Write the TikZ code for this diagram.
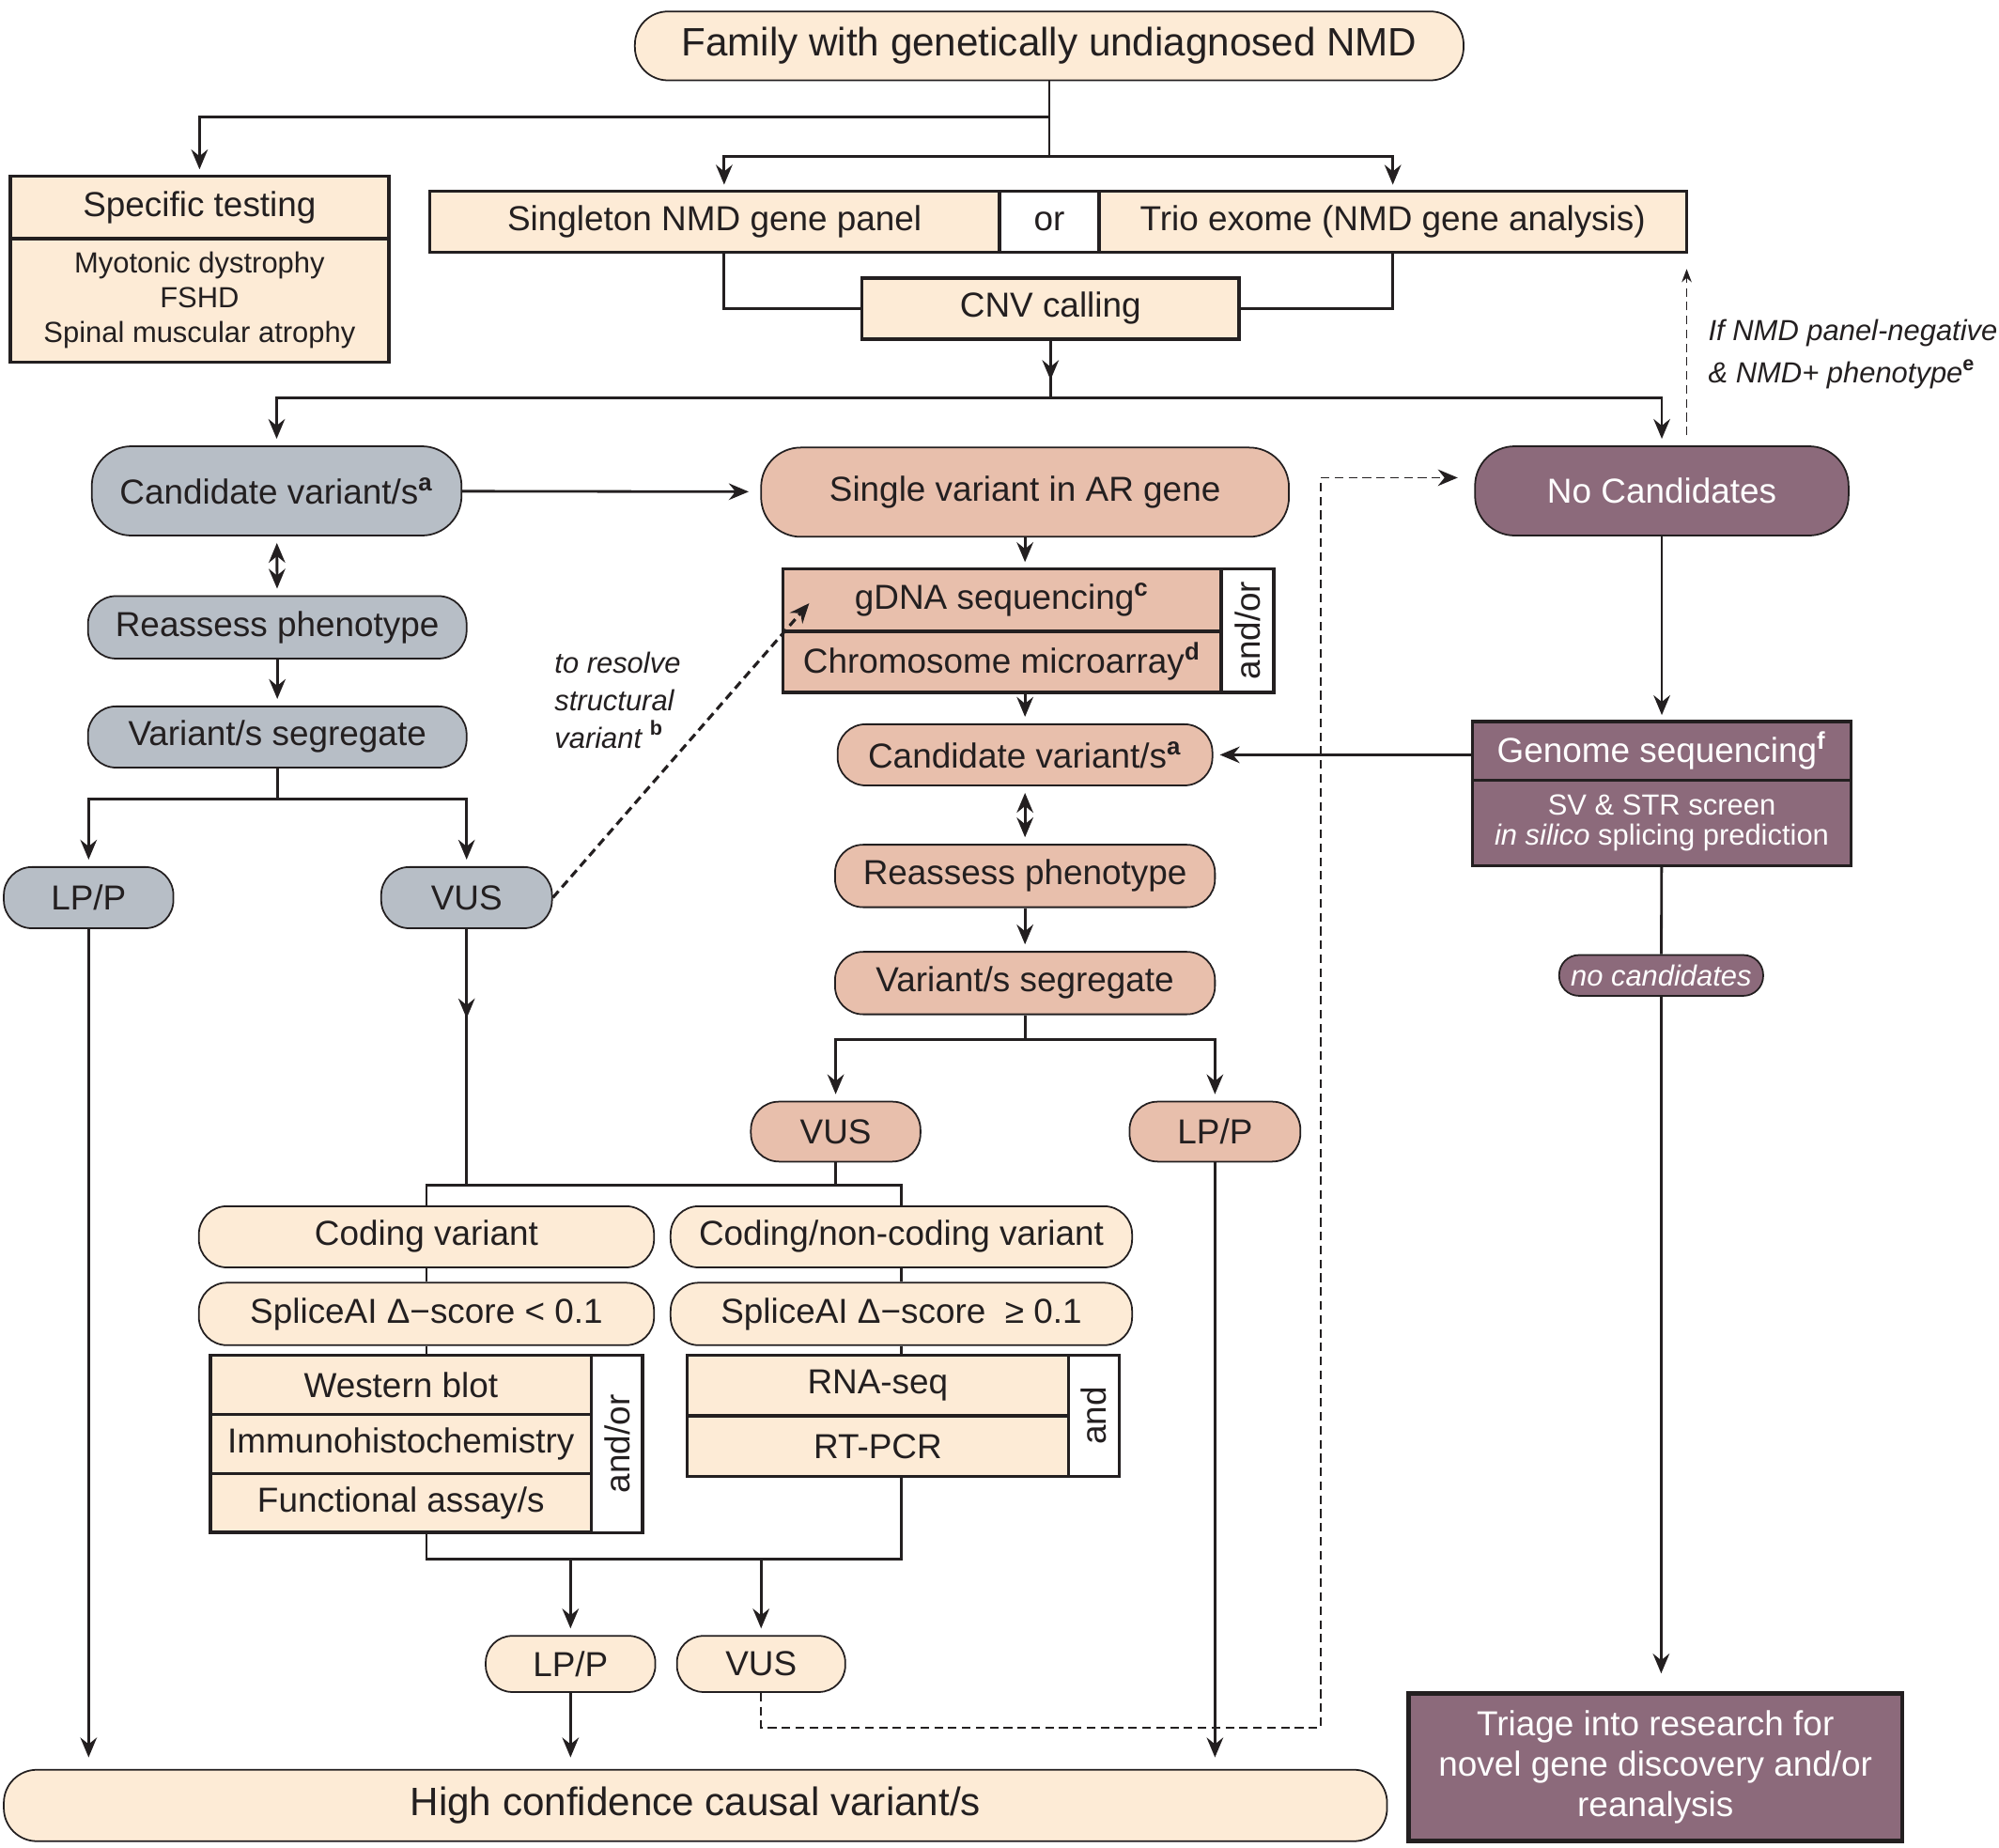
\documentclass[tikz,border=0pt]{standalone}
\usepackage{fontspec}
\setmainfont{Liberation Sans}
\usetikzlibrary{positioning,arrows.meta}

\definecolor{ink}{HTML}{231F20}
\definecolor{peach}{HTML}{FDEBD6}
\definecolor{slate}{HTML}{B7BEC6}
\definecolor{salmon}{HTML}{E8BFAC}
\definecolor{mauve}{HTML}{8C6A7B}

\tikzset{
  sz/.style 2 args={minimum width=#1*0.3861pt, minimum height=#2*0.3861pt},
  pill/.style={draw=ink, line width=0.5pt, rounded corners=8.5pt, inner sep=0pt, text=ink, font=\fontsize{10.5}{12.6}\selectfont},
  cell/.style={draw=ink, line width=1pt, inner sep=0pt, outer sep=0pt, text=ink, font=\fontsize{10.5}{12.6}\selectfont},
  smalltext/.style={font=\fontsize{8.8}{10.6}\selectfont},
  note/.style={font=\fontsize{8.8}{11.4}\selectfont\itshape, text=ink, inner sep=0pt, align=left},
  arr/.style={->, shorten >=2pt},
}

\begin{document}
\begin{tikzpicture}[x=0.3861pt, y=-0.3861pt, line width=0.8pt, color=ink,
    >={Stealth[length=6pt,width=5pt,inset=2pt]}]
	\useasboundingbox (0,0) rectangle (1568,1449);

	\node[pill, fill=peach, sz={650}{54}, rounded corners=10pt, font=\fontsize{12}{14}\selectfont] (fam) at (823,36) {Family with genetically undiagnosed NMD};

	\node[cell, fill=peach, sz={297}{49}] (spec) at (156.5,162.5) {Specific testing};
	\node[cell, fill=peach, sz={297}{97}, below=0pt of spec, align=center, smalltext] (specl) {Myotonic dystrophy\\FSHD\\Spinal muscular atrophy};

	\node[cell, fill=peach, sz={447}{48}] (panel) at (560.5,174) {Singleton NMD gene panel};
	\node[cell, fill=white, sz={78}{48}, right=0pt of panel] (orcell) {or};
	\node[cell, fill=peach, sz={461}{48}, right=0pt of orcell] (trio) {Trio exome (NMD gene analysis)};
	\node[cell, fill=peach, sz={296}{48}] (cnv) at (824,242) {CNV calling};

	\node[pill, fill=slate, sz={290}{70}, rounded corners=12pt] (cand1) at (217,385) {Candidate variant/s\textsuperscript{\bfseries a}};
	\node[pill, fill=slate, sz={297}{49}] (reas1) at (217.5,492) {Reassess phenotype};
	\node[pill, fill=slate, sz={297}{48}] (seg1) at (217.5,578) {Variant/s segregate};
	\node[pill, fill=slate, sz={133}{48}] (lpp1) at (69.5,704) {LP/P};
	\node[pill, fill=slate, sz={134}{48}] (vus1) at (366,704) {VUS};
	\node[note, anchor=west] (svnote) at (434,549) {to resolve\\structural\\variant \textsuperscript{\upshape\bfseries b}};

	\node[pill, fill=salmon, sz={414}{70}, rounded corners=12pt] (single) at (804,386) {Single variant in AR gene};
	\node[cell, fill=salmon, sz={344}{49}] (gdna) at (786,470.5) {gDNA sequencing\textsuperscript{\bfseries c}};
	\node[cell, fill=salmon, sz={344}{48}, below=0pt of gdna] (chrom) {Chromosome microarray\textsuperscript{\bfseries d}};
	\node[cell, fill=white, sz={41}{97}, anchor=north west] (andor1) at (gdna.north east) {\rotatebox{90}{and/or}};
	\node[pill, fill=salmon, sz={294}{48}] (cand2) at (804,592) {Candidate variant/s\textsuperscript{\bfseries a}};
	\node[pill, fill=salmon, sz={298}{49}] (reas2) at (804,687) {Reassess phenotype};
	\node[pill, fill=salmon, sz={298}{49}] (seg2) at (804,771) {Variant/s segregate};
	\node[pill, fill=salmon, sz={133}{47}] (vus2) at (655.5,887.5) {VUS};
	\node[pill, fill=salmon, sz={134}{47}] (lpp2) at (953,887.5) {LP/P};

	\node[pill, fill=mauve, text=white, sz={293}{70}, rounded corners=12pt] (nocand) at (1303.5,385) {No Candidates};
	\node[note, anchor=west, font=\fontsize{8.8}{12.7}\selectfont\itshape] (ifnote) at (1339,278) {If NMD panel-negative\\\& NMD+ phenotype\textsuperscript{\upshape\bfseries e}};
	\node[cell, fill=mauve, text=white, sz={297}{46}] (genome) at (1303.5,589) {Genome sequencing\textsuperscript{\bfseries f}};
	\node[cell, fill=mauve, text=white, sz={297}{67}, below=0pt of genome, align=center, font=\fontsize{8.8}{9.3}\selectfont] (screen) {SV \& STR screen\\\textit{in silico} splicing prediction};
	\node[pill, note, fill=mauve, text=white, sz={160}{32}, rounded corners=6pt] (nocand2) at (1303,765) {no candidates};
	\node[cell, fill=mauve, text=white, sz={387}{116}, line width=1.3pt, align=center, font=\fontsize{10.5}{12.3}\selectfont] (triage) at (1298.5,1386) {Triage into research for\\novel gene discovery and/or\\reanalysis};

	\node[pill, fill=peach, sz={357}{48}] (coding) at (334.5,970) {Coding variant};
	\node[pill, fill=peach, sz={362}{48}] (noncod) at (707,970) {Coding/non-coding variant};
	\node[pill, fill=peach, sz={357}{49}] (splice1) at (334.5,1030.5) {SpliceAI Δ−score < 0.1};
	\node[pill, fill=peach, sz={362}{49}] (splice2) at (707,1030.5) {SpliceAI Δ−score~ ≥ 0.1};

	\node[cell, fill=peach, sz={299}{46.3}, anchor=north west] (western) at (165,1063) {Western blot};
	\node[cell, fill=peach, sz={299}{46.3}, below=0pt of western] (immuno) {Immunohistochemistry};
	\node[cell, fill=peach, sz={299}{46.3}, below=0pt of immuno] (funct) {Functional assay/s};
	\node[cell, fill=white, sz={40}{139}, anchor=north west] (andor2) at (western.north east) {\rotatebox{90}{and/or}};
	\node[cell, fill=peach, sz={299}{47.5}, anchor=north west] (rnaseq) at (539,1063) {RNA-seq};
	\node[cell, fill=peach, sz={299}{47.5}, below=0pt of rnaseq] (rtpcr) {RT-PCR};
	\node[cell, fill=white, sz={40}{95}, anchor=north west] (andcell) at (rnaseq.north east) {\rotatebox{90}{and}};

	\node[pill, fill=peach, sz={133}{44}, rounded corners=8pt] (lpp3) at (447.5,1305) {LP/P};
	\node[pill, fill=peach, sz={132}{44}, rounded corners=8pt] (vus3) at (597,1305) {VUS};
	\node[pill, fill=peach, sz={1085}{56}, rounded corners=10pt, font=\fontsize{12}{14}\selectfont] (high) at (545.5,1416) {High confidence causal variant/s};

	\coordinate (dturn) at (1036,1355);

	\draw (fam.south) -- ++(0,59) coordinate (j2);
	\draw[arr] (fam.south) ++(0,28) -| (spec);
	\draw[arr] (j2) -| ([xshift=2.9pt]panel.north);
	\draw[arr] (j2) -| (trio);
	\draw ([xshift=2.9pt]panel.south) |- (cnv);
	\draw (trio) |- (cnv);
	\draw (cnv.south) -- ++(0,46) coordinate (j3);
	\draw[->] (cnv.south) -- ++(0,32);
	\draw[arr] (j3) -| (cand1);
	\draw[arr] (j3) -| (nocand);
	\draw[->, dashed, line width=0.5pt, dash pattern=on 2.6pt off 1.6pt, >={Stealth[length=4pt,width=3pt]}] (nocand.north -| trio.east) ++(0,-8) -- ([yshift=-5pt]trio.south east);

	\draw[<->, shorten >=2pt, shorten <=2pt] (cand1) -- (reas1);
	\draw[arr] (reas1) -- (seg1);
	\draw (seg1.south) -- ++(0,24) coordinate (j4);
	\draw[arr] (j4) -| (lpp1);
	\draw[arr] (j4) -| (vus1);
	\draw[arr, shorten >=3.5pt] (cand1) -- (single);
	\draw[arr, shorten >=3.5pt] (lpp1) -- (lpp1 |- high.north);
	\draw[->, dashed, line width=0.9pt, dash pattern=on 2.6pt off 1.6pt] (vus1.east) -- ([xshift=8pt,yshift=-1pt]gdna.west);

	\draw[arr] (single.south) -- (single.south |- gdna.north);
	\draw[arr] (single.south |- chrom.south) -- (cand2);
	\draw[<->, shorten >=2pt, shorten <=2pt] (cand2) -- (reas2);
	\draw[arr] (reas2) -- (seg2);
	\draw (seg2.south) -- ++(0,19) coordinate (j6);
	\draw[arr] (j6) -| (vus2);
	\draw[arr] (j6) -| (lpp2);
	\draw[arr] (genome.west |- cand2) -- (cand2);
	\draw[arr, shorten >=3.5pt] (lpp2) -- (lpp2 |- high.north);

	\draw (coding.north) -- ++(0,-16) coordinate (brk) -| (noncod.north);
	\draw (vus1.south) -- (vus1.south |- brk);
	\draw[->] (vus1.south) -- ++(0,70);
	\draw (vus2) -- (vus2 |- brk);
	\draw (coding) -- (splice1);
	\draw (noncod) -- (splice2);
	\draw (splice1.south) -- (splice1.south |- western.north);
	\draw (splice2.south) -- (splice2.south |- rnaseq.north);
	\draw (splice1.south |- funct.south) -- ++(0,21) coordinate (brk2) -| (splice2.south |- rtpcr.south);
	\draw[arr] (lpp3 |- brk2) -- (lpp3);
	\draw[arr] (vus3 |- brk2) -- (vus3);
	\draw[arr, shorten >=3.5pt] (lpp3) -- (lpp3 |- high.north);
	\draw[->, dashed, line width=0.5pt, dash pattern=on 2.6pt off 1.6pt, shorten >=5pt] (vus3.south) |- (dturn) |- ([yshift=4pt]nocand.west);

	\draw[arr] (nocand) -- (genome);
	\draw (screen) -- (nocand2);
	\draw[arr, shorten >=6pt] (nocand2) -- (nocand2 |- triage.north);
\end{tikzpicture}
\end{document}
